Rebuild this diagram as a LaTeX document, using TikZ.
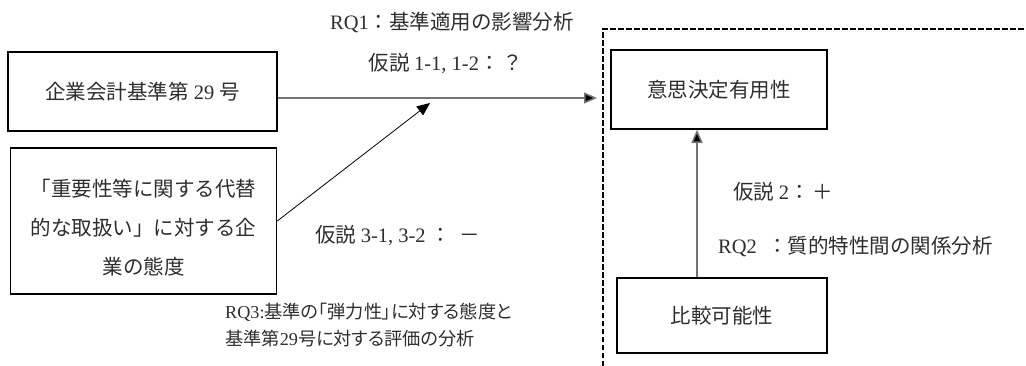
\documentclass[tikz,border=0pt]{standalone}
\usepackage{fontspec}
\setmainfont{Liberation Serif}
\newfontfamily\jp{Noto Sans CJK JP}
\newfontfamily\jpp{Noto Sans CJK JP}[RawFeature=+palt]
\usetikzlibrary{arrows.meta}
\newcommand\lt[1]{{\rmfamily #1}}
\tikzset{
  box/.style={draw=black, line width=1.6pt, inner sep=0pt, align=center, text=black!82},
  lbl/.style={inner sep=0pt, text=black!82},
  arrgray/.style={draw=black!55, line width=1.5pt, -{Triangle[length=13pt,width=11pt,fill=black]}},
  arrthin/.style={draw=black, line width=0.8pt, -{Triangle[length=13pt,width=11pt,fill=black]}},
  frame/.style={draw=black, line width=1.4pt, dash pattern=on 5.5pt off 2.5pt}
}
\begin{document}
\begin{tikzpicture}[x=1pt, y=-1pt, font=\jp\fontsize{20.5}{39}\selectfont]
\useasboundingbox (0,0) rectangle (1026,366);
% dashed frame (open to the right and bottom)
\draw[frame] (603,366) -- (603,29) -- (1026,29);
% boxes
\node[box, minimum width=269pt, minimum height=79pt] (b1) at (142.5,91.5) {企業会計基準第\lt{ 29 }号};
\node[box, minimum width=266pt, minimum height=146pt] (b2) at (143.5,221) {};
\node[lbl, align=center] (b2t) at (143.5,228)
  {「重要性等に関する代替\\的な取扱い」に対する企\\業の態度};
\node[box, minimum width=216pt, minimum height=79pt] (b3) at (719,89.5) {意思決定有用性};
\node[box, minimum width=210pt, minimum height=75pt] (b4) at (722,315.5) {比較可能性};
% labels
\node[lbl] (rq1) at (452,23) {\lt{RQ1}：基準適用の影響分析};
\node[lbl] (h1) at (446,63) {仮説 \lt{1-1, 1-2}：\,？};
\node[lbl, anchor=west] (h3) at (315,235) {仮説 \lt{3-1, 3-2 }：\hspace{8pt}－};
\node[lbl, anchor=west] (h2) at (733,192) {仮説 \lt{2}：\,＋};
\node[lbl, anchor=west] (rq2) at (718,247) {\lt{RQ2\ \ }：質的特性間の関係分析};
\node[lbl, anchor=west, font=\jpp\fontsize{18.2}{28}\selectfont] (rq3a) at (225,312) {\lt{RQ3:}基準の「弾力性」に対する態度と};
\node[lbl, anchor=west, font=\jpp\fontsize{18.2}{28}\selectfont] (rq3b) at (225,339) {基準第\lt{29}号に対する評価の分析};
% connectors
\coordinate (t1) at (597,98);
\coordinate (t2) at (430,103);
\coordinate (vx) at (697,0);
\draw[arrgray] (b1.east |- t1) -- (t1);
\draw[arrthin] (b2.east) -- (t2);
\draw[arrgray] (b4.north -| vx) -- (b3.south -| vx);
\end{tikzpicture}
\end{document}
